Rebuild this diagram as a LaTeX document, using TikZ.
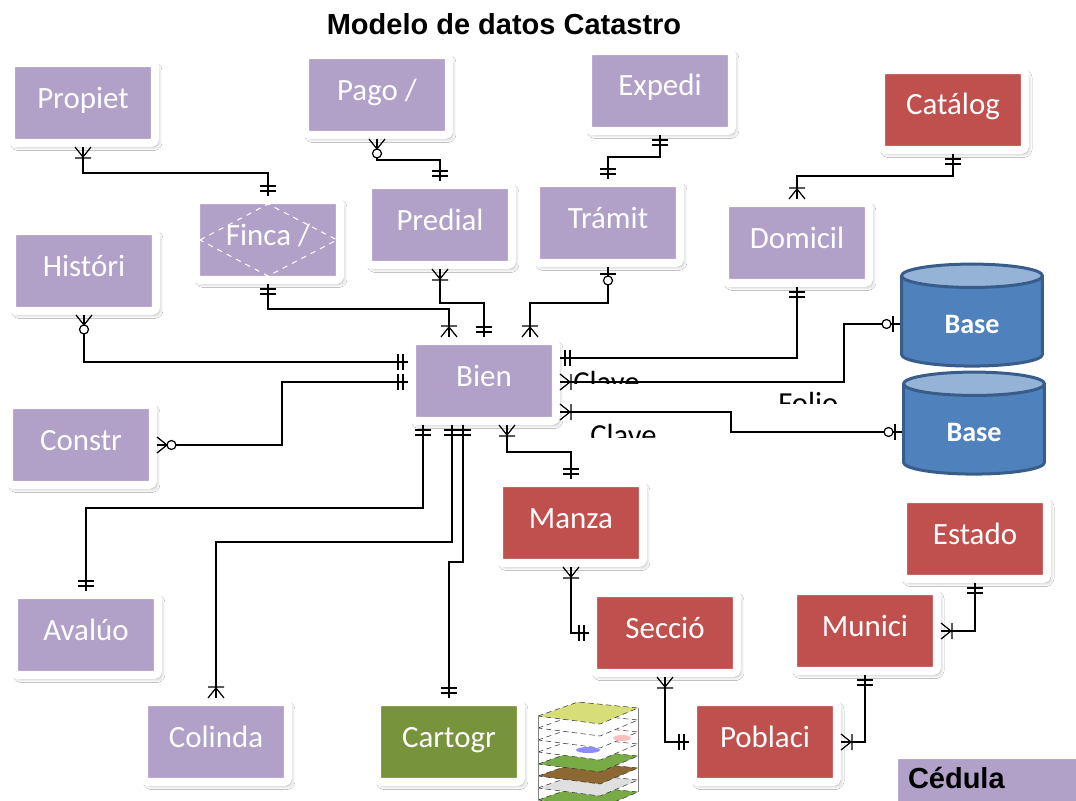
\documentclass[tikz,border=0pt]{standalone}
\usepackage{fontspec}
\setmainfont{Carlito}
\newfontfamily\arialfont{Liberation Sans}
\usetikzlibrary{calc,shadows.blur,shapes.geometric,decorations.markings}
\definecolor{EntPurple}{RGB}{177,160,199}
\definecolor{EntRed}{RGB}{192,80,77}
\definecolor{EntGreen}{RGB}{119,147,60}
\definecolor{DbBlue}{RGB}{79,129,189}
\definecolor{DbTop}{RGB}{149,179,215}
\definecolor{DbEdge}{RGB}{56,93,138}
\definecolor{CapaAmarillo}{RGB}{214,222,120}
\definecolor{CapaPasto}{RGB}{120,170,70}
\definecolor{CapaCafe}{RGB}{140,105,50}
% cardinality marks, drawn with the box on the +x side
\newcommand{\erOne}{\draw[x=0.02cm,y=0.02cm] (-5,-8) -- (-5,8) (-10,-8) -- (-10,8);}
\newcommand{\erMany}{\draw[x=0.02cm,y=0.02cm] (0,-8) -- (-10,0) -- (0,8) (-11,-8) -- (-11,8);}
\newcommand{\erZeroMany}{\draw[x=0.02cm,y=0.02cm] (0,-8) -- (-10,0) -- (0,8);
  \draw[x=0.02cm,y=0.02cm,fill=white] (-14.5,0) circle (4.5);}
\newcommand{\erZeroOne}{\draw[x=0.02cm,y=0.02cm] (-7,-8) -- (-7,8);
  \draw[x=0.02cm,y=0.02cm,fill=white] (-13.5,0) circle (4.5);}
\tikzset{
  entity/.style={draw=white,line width=0.16cm,rounded corners=0.08cm,inner sep=0pt,
    minimum width=2.88cm,minimum height=1.6cm,text=white,
    text height=0.46cm,text depth=0.26cm,font=\fontsize{17.6}{20}\selectfont,
    blur shadow={shadow xshift=0.06cm,shadow yshift=-0.07cm,
      shadow blur radius=0.08cm,shadow opacity=35}},
  lila/.style={entity,fill=EntPurple},
  rojo/.style={entity,fill=EntRed},
  verde/.style={entity,fill=EntGreen},
  basedatos/.style={cylinder,shape border rotate=90,aspect=0.35,draw=DbEdge,
    line width=0.06cm,cylinder uses custom fill,cylinder body fill=DbBlue,
    cylinder end fill=DbTop,minimum width=2.82cm,minimum height=2.04cm,
    text=white,font=\bfseries\fontsize{16}{18}\selectfont},
  rel/.style={draw=black,line width=0.7pt},
  start mark/.style={postaction={decorate,decoration={markings,
    mark=at position 0 with {\begin{scope}[xscale=-1]#1\end{scope}}}}},
  end mark/.style={postaction={decorate,decoration={markings,
    mark=at position 1 with {#1}}}},
  nota/.style={inner sep=0pt,anchor=base west,font=\fontsize{17.4}{20}\selectfont},
}

\begin{document}
\begin{tikzpicture}[x=0.02cm,y=-0.02cm]
  \fill[white] (0,0) rectangle (1076,801);
  \useasboundingbox (0,0) rectangle (1076,801);

  \node[font=\arialfont\bfseries\fontsize{16.5}{19}\selectfont] (titulo) at (504,24) {Modelo de datos Catastro};

  \node[lila] (propiet) at (83,103) {Propiet};
  \node[lila] (pago) at (377,95) {Pago /};
  \node[lila] (expedi) at (660,91) {Expedi};
  \node[rojo] (catalogo) at (953,110) {Catálog};
  \node[lila] (finca) at (268,240) {Finca /};
  \draw[white,dashed,line width=0.6pt] ($(finca)+(-68,0)$) -- ($(finca)+(0,-36)$)
    -- ($(finca)+(69,0)$) -- ($(finca)+(0,36)$) -- cycle;
  \node[lila] (predial) at (440,225) {Predial};
  \node[lila] (tramite) at (608,223) {Trámit};
  \node[lila] (domicil) at (797,243) {Domicil};
  \node[lila] (historico) at (84,271) {Históri};
  \node[lila] (bien) at (484,381) {Bien};
  \node[lila] (constr) at (81,445) {Constr};
  \node[lila] (avaluo) at (86,635) {Avalúo};
  \node[lila] (colinda) at (216,742) {Colinda};
  \node[verde] (cartogr) at (449,742) {Cartogr};
  \node[rojo] (manzana) at (571,523) {Manza};
  \node[rojo] (seccion) at (665,633) {Secció};
  \node[rojo] (municipio) at (865,631) {Munici};
  \node[rojo] (estado) at (975,539) {Estado};
  \node[rojo] (poblacion) at (765,742) {Poblaci};
  \node[basedatos] (basea) at (972,324) {Base};
  \node[basedatos] (baseb) at (974,432) {Base};
  \node[lila,text=black,font=\arialfont\bfseries\fontsize{16.5}{19}\selectfont,
    minimum width=3.84cm,minimum height=1.12cm,text width=3.28cm,align=left] (cedula) at (990,783) {Cédula};

  \begin{scope}
    \clip (565,360) rectangle (700,383);
    \node[nota] (clavea) at (573,392) {Clave};
  \end{scope}
  \begin{scope}
    \clip (770,385) rectangle (860,403);
    \node[nota] (folio) at (778,413) {Folio};
  \end{scope}
  \begin{scope}
    \clip (580,415) rectangle (700,437);
    \node[nota] (claveb) at (590,445) {Clave};
  \end{scope}

  \coordinate (capas) at (538,716);
  \foreach \capa/\tono in {7/CapaPasto,6/gray!25,5/CapaCafe,4/CapaPasto,3/white,2/white,1/white,0/CapaAmarillo}
    \filldraw[fill=\tono,draw=black!80,densely dashed,line width=0.3pt]
      ($(capas)+(0,12*\capa)$) -- ++(40,-14) -- ++(60,6) -- ++(-38,16) -- cycle;
  \fill[blue!45] (588,750) ellipse (12 and 3);
  \fill[pink] (622,738) ellipse (9 and 3);
  \draw[gray,line width=0.3pt] (capas) -- ++(0,84) ($(capas)+(100,-8)$) -- ++(0,84);

  \draw[rel,start mark=\erMany,end mark=\erOne] (propiet.south) -- ++(0,26) -| (finca.north);
  \draw[rel,start mark=\erZeroMany,end mark=\erOne] (pago.south) -- ++(0,21) -| (predial.north);
  \draw[rel,start mark=\erOne,end mark=\erOne] (expedi.south) -- ++(0,22) -| (tramite.north);
  \draw[rel,start mark=\erOne,end mark=\erMany] (catalogo.south) -- ++(0,22) -| (domicil.north);
  \draw[rel,start mark=\erOne,end mark=\erMany] (finca.south) -- ++(0,25) -| ($(bien.north)+(-35,0)$);
  \draw[rel,start mark=\erMany,end mark=\erOne] (predial.south) -- ++(0,34) -| (bien.north);
  \draw[rel,start mark=\erZeroOne,end mark=\erMany] (tramite.south) -- ++(0,36) -| ($(bien.north)+(46,0)$);
  \draw[rel,start mark=\erZeroMany,end mark=\erOne] (historico.south) |- ($(bien.west)+(0,-19)$);
  \draw[rel,start mark=\erZeroMany,end mark=\erOne] (constr.east) -- ++(125,0) |- ($(bien.west)+(0,1)$);
  \draw[rel,start mark=\erOne,end mark=\erOne] ($(bien.east)+(0,-23)$) -| (domicil.south);
  \draw[rel,start mark=\erMany,end mark=\erZeroOne] ($(bien.east)+(0,1)$) -- ++(284,0) |- (basea.west);
  \draw[rel,start mark=\erMany,end mark=\erZeroOne] ($(bien.east)+(0,31)$) -- ++(171,0) |- (baseb.west);
  \draw[rel,start mark=\erOne,end mark=\erOne] ($(bien.south)+(-61,0)$) -- ++(0,83) -| (avaluo.north);
  \draw[rel,start mark=\erOne,end mark=\erMany] ($(bien.south)+(-32,0)$) -- ++(0,117) -| (colinda.north);
  \draw[rel,start mark=\erOne,end mark=\erOne] ($(bien.south)+(-21,0)$) -- ++(0,137) -| (cartogr.north);
  \draw[rel,start mark=\erMany,end mark=\erOne] ($(bien.south)+(23,0)$) -- ++(0,27) -| (manzana.north);
  \draw[rel,start mark=\erMany,end mark=\erOne] (manzana.south) |- (seccion.west);
  \draw[rel,start mark=\erMany,end mark=\erOne] (seccion.south) |- (poblacion.west);
  \draw[rel,start mark=\erMany,end mark=\erOne] (poblacion.east) -| (municipio.south);
  \draw[rel,start mark=\erMany,end mark=\erOne] (municipio.east) -| (estado.south);
\end{tikzpicture}
\end{document}
